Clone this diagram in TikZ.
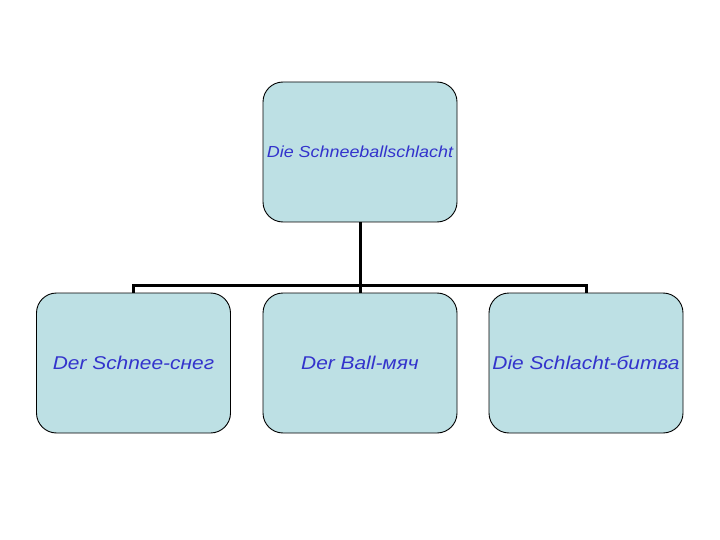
\documentclass[tikz,border=0pt]{standalone}
\usepackage{fontspec}
\setmainfont{Liberation Sans}
\definecolor{boxfill}{HTML}{BDE0E4}
\definecolor{txtblue}{HTML}{3333CC}
\begin{document}
\begin{tikzpicture}[x=1pt,y=-1pt,
  box/.style={draw=black, line width=0.9pt, fill=boxfill, rounded corners=20pt,
    minimum width=194pt, minimum height=140pt, inner sep=0pt, text=txtblue},
  conn/.style={line width=3pt, black}]
\useasboundingbox (0,0) rectangle (720,540);
\node[box] (top) at (360,152) {\fontsize{16}{18}\selectfont\itshape\scalebox{1.12}[1]{Die Schneeballschlacht}};
\node[box] (b1) at (133.5,363) {\fontsize{18.5}{20}\selectfont\itshape\scalebox{1.13}[1]{Der Schnee-снег}};
\node[box] (b2) at (360,363) {\fontsize{18.5}{20}\selectfont\itshape\scalebox{1.13}[1]{Der Ball-мяч}};
\node[box] (b3) at (586,363) {\fontsize{18.5}{20}\selectfont\itshape\scalebox{1.13}[1]{Die Schlacht-битва}};
\coordinate (j) at (360,285);
\draw[conn] (top.south) -- (j);
\draw[conn] (j) -- (b2.north);
\draw[conn] (b1.north) |- (j) -| (b3.north);
\end{tikzpicture}
\end{document}
